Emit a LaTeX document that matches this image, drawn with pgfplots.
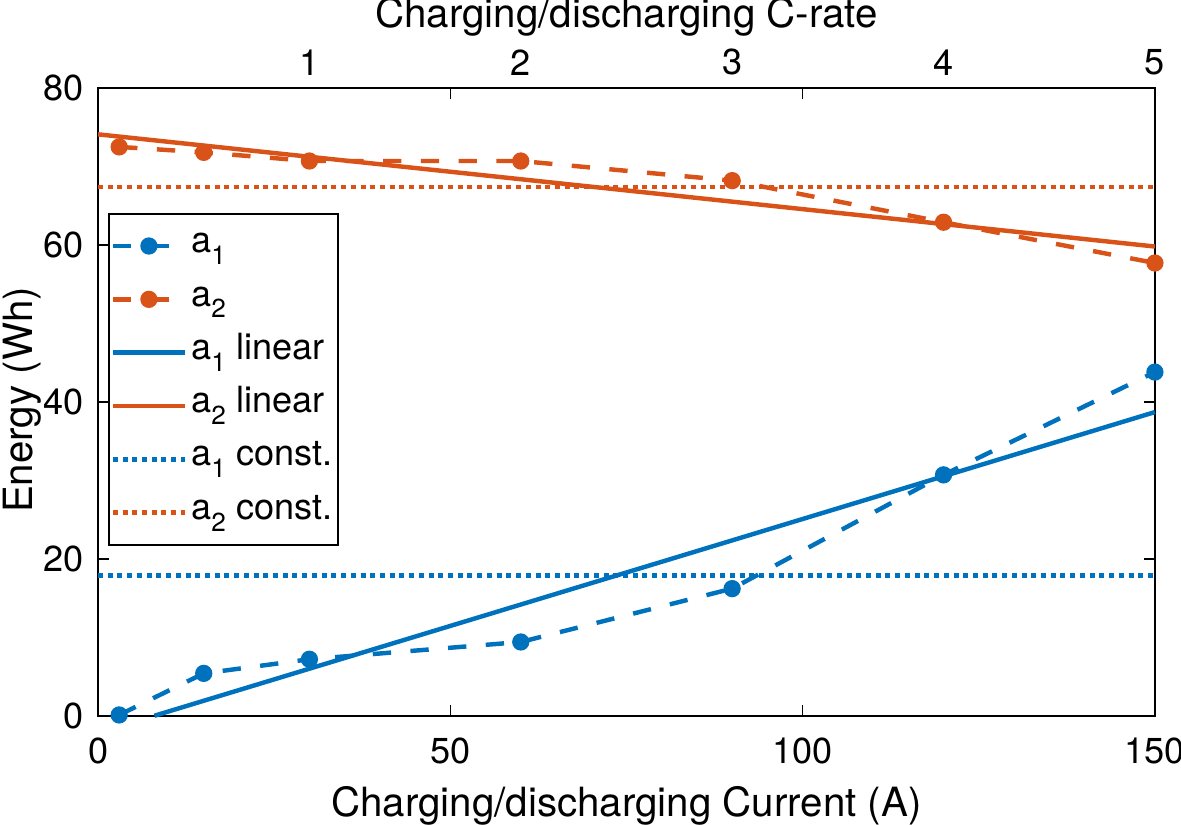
\documentclass[border=0pt]{standalone}
\usepackage{fontspec}
\setmainfont{TeX Gyre Heros}
\usepackage{pgfplots}
\pgfplotsset{compat=1.18}
\definecolor{mblue}{rgb}{0,0.447,0.741}
\definecolor{mred}{rgb}{0.850,0.325,0.098}
\newcommand{\sub}[1]{\raisebox{-4.3pt}{\fontsize{9.4}{10}\selectfont #1}}
\tikzset{
  dashline/.style={line width=1.6pt, dash pattern=on 6.6pt off 7pt},
  dotline/.style={line width=1.6pt, dash pattern=on 1.8pt off 1.7pt},
}
\begin{document}
\begin{tikzpicture}
\begin{axis}[
    name=main,
    scale only axis, width=380.5pt, height=226pt,
    xmin=0, xmax=150, ymin=0, ymax=80,
    xtick={0,50,100,150}, ytick={0,20,40,60,80},
    tick align=inside, major tick length=4pt,
    axis line style={line width=0.6pt},
    every tick/.style={black, line width=0.6pt},
    tick label style={font=\fontsize{13}{15}\selectfont},
    /pgf/number format/assume math mode=true,
    xticklabel style={yshift=-4.3pt},
    yticklabel style={xshift=-1.5pt},
    label style={font=\fontsize{14.5}{17}\selectfont},
    xlabel={Charging/discharging Current (A)},
    ylabel={Energy (Wh)},
    xlabel style={at={(axis description cs:0.5,-0.143)}, anchor=center},
    ylabel style={at={(axis description cs:-0.072,0.503)}, anchor=center},
    clip=false,
    legend cell align=left,
    legend style={at={(axis description cs:0.0095,0.801)}, anchor=north west,
                  draw=black, line width=0.6pt, inner xsep=0.6pt,
                  font=\fontsize{13}{15}\selectfont,
                  nodes={text height=9.5pt, text depth=4.7pt, inner ysep=2.5pt, inner xsep=1.5pt}},
    legend image code/.code={\draw[mark repeat=2,mark phase=2]
        plot coordinates {(0pt,0pt) (13pt,0pt) (26pt,0pt)};},
]
\addplot[mblue, dashline, mark=*, mark size=2.3pt, mark options={solid}] coordinates {
  (3,0.1) (15,5.4) (30,7.2) (60,9.4) (90,16.2) (120,30.7) (150,43.8)};
\addlegendentry{a\sub{1}}
\addplot[mred, dashline, mark=*, mark size=2.3pt, mark options={solid}] coordinates {
  (3,72.5) (15,71.8) (30,70.7) (60,70.7) (90,68.2) (120,62.9) (150,57.7)};
\addlegendentry{a\sub{2}}
\addplot[mblue, line width=1.6pt] coordinates {(8.0,0) (150,38.7)};
\addlegendentry{a\sub{1} linear}
\addplot[mred, line width=1.6pt] coordinates {(0,74.1) (150,59.8)};
\addlegendentry{a\sub{2} linear}
\addplot[mblue, dotline] coordinates {(0,17.9) (150,17.9)};
\addlegendentry{a\sub{1} const.}
\addplot[mred, dotline] coordinates {(0,67.4) (150,67.4)};
\addlegendentry{a\sub{2} const.}
\end{axis}
\begin{axis}[
    scale only axis, width=380.5pt, height=226pt,
    xmin=0, xmax=5, ymin=0, ymax=80,
    axis x line*=top, axis y line=none,
    xtick={1,2,3,4,5}, major tick length=0pt,
    axis line style={line width=0.6pt},
    tick label style={font=\fontsize{13}{15}\selectfont},
    /pgf/number format/assume math mode=true,
    xticklabel style={yshift=1pt},
    label style={font=\fontsize{14.5}{17}\selectfont},
    xlabel={Charging/discharging C-rate},
    xlabel style={at={(axis description cs:0.5,1.113)}, anchor=center},
]
\end{axis}
\pgfresetboundingbox
\path[use as bounding box] ([shift={(-35.3pt,-39.2pt)}]main.south west)
    rectangle ([shift={(9.4pt,31.7pt)}]main.north east);
\end{tikzpicture}
\end{document}
